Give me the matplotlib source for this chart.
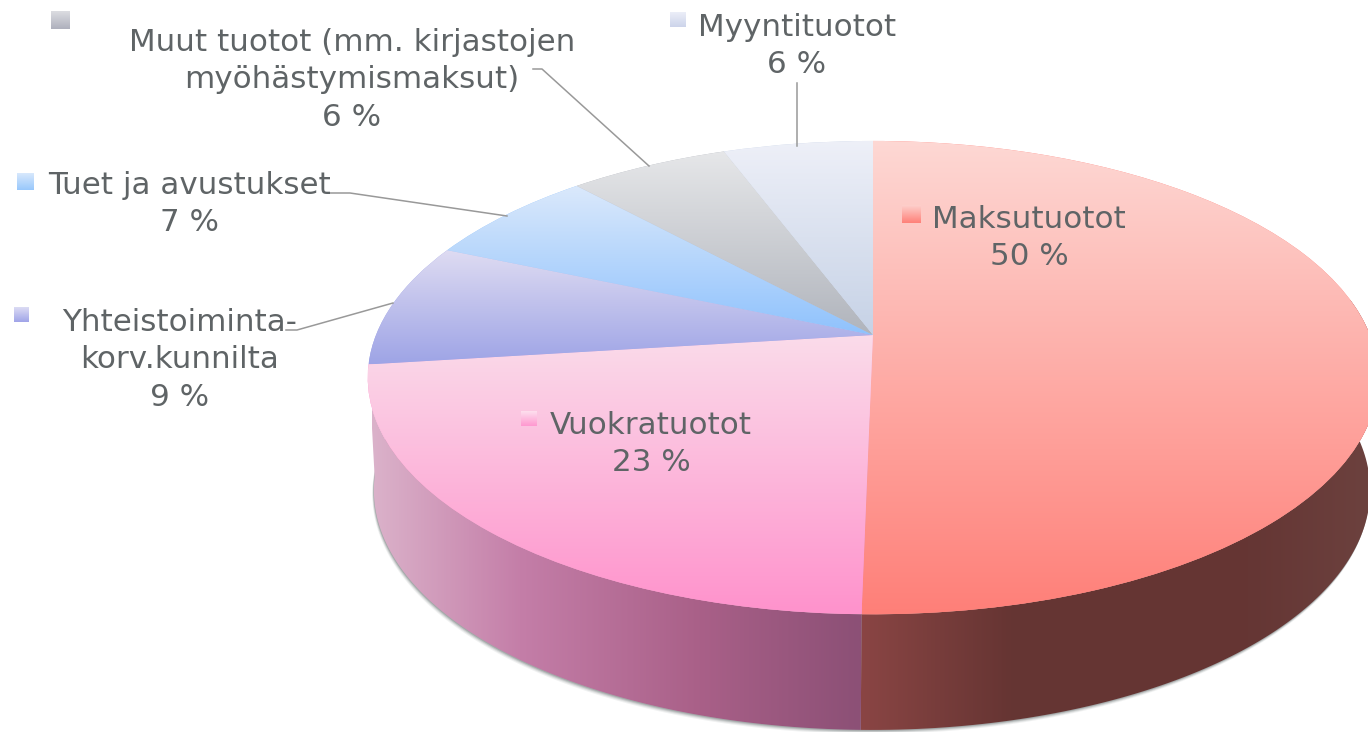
import matplotlib
matplotlib.use('Agg')
import matplotlib.pyplot as plt
import numpy as np
from matplotlib.colors import LinearSegmentedColormap
from matplotlib.patches import Polygon
from matplotlib.transforms import Transform

labels = ['Maksutuotot', 'Vuokratuotot', 'Yhteistoiminta-\nkorv.kunnilta', 'Tuet ja avustukset',
          'Muut tuotot (mm. kirjastojen\nmyöhästymismaksut)', 'Myyntituotot']
percent_labels = ['50 %', '23 %', '9 %', '7 %', '6 %', '6 %']
shares = [50.3, 22.7, 8.5, 6.7, 6.1, 5.7]

top_colors = [('#fdd8d4', '#ff7f78'), ('#fadcea', '#ff92cc'), ('#dfdcf2', '#9ea4e6'),
              ('#dbe9fb', '#8fc2fd'), ('#e6e7e9', '#b0b4bc'), ('#eef0f8', '#c6d2e6')]
key_colors = [('#fdd0cc', '#ff8078'), ('#fde0ee', '#ff98d0'), ('#dcdcf4', '#a0a4e8'),
              ('#d8e8fc', '#98c8fc'), ('#dcdde2', '#aeb0bc'), ('#eceef8', '#ccd4ea')]
side_stops = [['#8a4544', '#8a4544', '#663533', '#653634', '#6c413e'],
              ['#dbb2ca', '#c47ea8', '#a96088', '#8c5076', '#8c5076']]
side_edges = [[850, 860, 1010, 1250, 1368], [372, 520, 700, 860, 870]]

text_x = [1029, 651, 180, 189, 352, 797]
text_y = [238, 444, 360, 204, 80, 46]
key_boxes = [(902, 921, 205, 223), (521, 537, 411, 426), (14, 29, 307, 322),
             (17, 34, 173, 190), (51, 70, 11, 29), (670, 686, 12, 27)]
leaders = [[(286, 330), (297, 330), (393, 303)], [(330, 193), (350, 193), (507, 216)],
           [(533, 69), (542, 69), (649, 166)], [(797, 83), (797, 146)]]


class PieProjection(Transform):
    input_dims = 2
    output_dims = 2

    def __init__(self, cx, cy, a, b, k):
        super().__init__()
        self.cx, self.cy, self.a, self.b, self.k = cx, cy, a, b, k

    def transform_non_affine(self, values):
        values = np.asarray(values, dtype=float)
        w = 1 + self.k * values[:, 1]
        return np.column_stack([self.cx + self.b * values[:, 0] / w,
                                self.cy - self.a * values[:, 1] / w])


def gradient_image(ax, c0, c1, extent, z=3):
    cmap = LinearSegmentedColormap.from_list('g', [c0, c1])
    ramp = np.linspace(0, 1, 256)[:, None]
    return ax.imshow(ramp, cmap=cmap, extent=extent, origin='upper', aspect='auto', zorder=z,
                     interpolation='bilinear')


fig = plt.figure(figsize=(13.68, 7.32), dpi=100)
ax = fig.add_axes([0, 0, 1, 1])

top_face = PieProjection(873, 335, 229, 497, 0.18)
bottom_face = PieProjection(872, 447, 232, 490, 0.18)

wedges, _ = ax.pie(shares, startangle=90, counterclock=False, colors=[c[1] for c in top_colors], frame=False)
ax.set_aspect('auto')

# soft shadow under the side wall
t = np.radians(np.linspace(172, 368, 300))
ring = np.column_stack([np.cos(t), np.sin(t)])
for off, alpha in [(4, 0.10), (3, 0.15), (2, 0.25), (1, 0.35)]:
    pts = bottom_face.transform_non_affine(ring) + [-off * 0.4, off]
    ax.add_patch(Polygon(pts, closed=True, fc='#707878', ec='none', alpha=alpha, zorder=0.5))

# side wall, only the two front slices show
for i in range(2):
    t = np.radians(np.linspace(wedges[i].theta1, wedges[i].theta2, 200))
    if i == 0:
        t = t[t < np.radians(30)]
    arc = np.column_stack([np.cos(t), np.sin(t)])
    outline = np.vstack([top_face.transform_non_affine(arc), bottom_face.transform_non_affine(arc)[::-1]])
    poly = Polygon(outline, closed=True, fc='none', ec='none', transform=ax.transData)
    ax.add_patch(poly)
    edges = np.array(side_edges[i], dtype=float)
    cmap = LinearSegmentedColormap.from_list('s', list(zip((edges - edges[0]) / (edges[-1] - edges[0]), side_stops[i])))
    im = ax.imshow(np.linspace(0, 1, 256)[None, :], cmap=cmap, extent=(edges[0], edges[-1], 740, 300),
                   aspect='auto', zorder=1 + i * 0.1)
    im.set_clip_path(poly)

# top face with a vertical gradient in each slice
for wedge, (c0, c1) in zip(wedges, top_colors):
    wedge.set_transform(top_face + ax.transData)
    wedge.set_zorder(2)
    pts = top_face.transform_non_affine(wedge.get_patch_transform().transform(wedge.get_path().vertices))
    y0, y1 = pts[:, 1].min(), pts[:, 1].max()
    im = gradient_image(ax, c0, c1, (pts[:, 0].min(), pts[:, 0].max(), y1, y0))
    im.set_clip_path(wedge)

for pts in leaders:
    xs, ys = zip(*pts)
    ax.plot(xs, ys, color='#999999', lw=1.1, zorder=4)

for label, pct, x, y, box, (c0, c1) in zip(labels, percent_labels, text_x, text_y, key_boxes, key_colors):
    ax.text(x, y, label + '\n' + pct, ha='center', va='center', fontsize=22.3, color='#5f6466',
            linespacing=1.36, family='DejaVu Sans', zorder=5)
    gradient_image(ax, c0, c1, (box[0], box[1], box[3], box[2]), z=5)

ax.set_xlim(0, 1368)
ax.set_ylim(732, 0)
ax.axis('off')
fig.savefig('out.png', dpi=100, facecolor='white')
